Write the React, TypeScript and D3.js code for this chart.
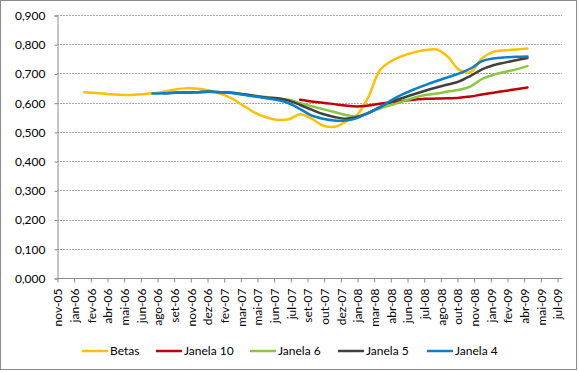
import React, { useEffect, useRef } from "react";
import * as d3 from "d3";

// tick labels on the x axis (Excel date axis)
const tickLabels = [
  "nov-05", "jan-06", "fev-06", "abr-06", "mai-06", "jun-06", "ago-06", "set-06",
  "nov-06", "dez-06", "fev-07", "mar-07", "mai-07", "jun-07", "jul-07", "set-07",
  "out-07", "dez-07", "jan-08", "mar-08", "abr-08", "jun-08", "jul-08", "ago-08",
  "out-08", "nov-08", "jan-09", "fev-09", "abr-09", "mai-09", "jul-09",
];

// monthly data points, jan-06 .. abr-09
const months = [
  "jan-06", "fev-06", "mar-06", "abr-06", "mai-06", "jun-06", "jul-06", "ago-06", "set-06", "out-06", "nov-06", "dez-06",
  "jan-07", "fev-07", "mar-07", "abr-07", "mai-07", "jun-07", "jul-07", "ago-07", "set-07", "out-07", "nov-07", "dez-07",
  "jan-08", "fev-08", "mar-08", "abr-08", "mai-08", "jun-08", "jul-08", "ago-08", "set-08", "out-08", "nov-08", "dez-08",
  "jan-09", "fev-09", "mar-09", "abr-09",
];

const yTicks = [0, 0.1, 0.2, 0.3, 0.4, 0.5, 0.6, 0.7, 0.8, 0.9];

// null = no value for that month
const betas = [
  0.636, 0.633, 0.63, 0.627, 0.626, 0.629, 0.632, 0.638, 0.645, 0.649, 0.648, 0.642,
  0.63, 0.614, 0.59, 0.566, 0.55, 0.541, 0.543, 0.56, 0.545, 0.522, 0.517, 0.535,
  0.558, 0.62, 0.71, 0.742, 0.76, 0.772, 0.78, 0.782, 0.757, 0.712, 0.705, 0.752,
  0.774, 0.779, 0.782, 0.785,
];
const janela10 = [
  null, null, null, null, null, null, null, null, null, null, null, null,
  null, null, null, null, null, null, null, 0.61, 0.604, 0.6, 0.595, 0.59,
  0.587, 0.59, 0.596, 0.601, 0.606, 0.61, 0.613, 0.614, 0.615, 0.617, 0.621, 0.628,
  0.634, 0.64, 0.646, 0.652,
];
const janela6 = [
  null, null, null, null, null, null, null, null, 0.634, 0.635, 0.636, 0.637,
  0.636, 0.634, 0.629, 0.624, 0.619, 0.614, 0.61, 0.598, 0.588, 0.578, 0.568, 0.558,
  0.552, 0.566, 0.58, 0.592, 0.604, 0.617, 0.626, 0.631, 0.638, 0.644, 0.656, 0.681,
  0.695, 0.705, 0.714, 0.725,
];
const janela5 = [
  null, null, null, null, null, null, null, 0.632, 0.634, 0.635, 0.636, 0.637,
  0.636, 0.634, 0.629, 0.623, 0.618, 0.615, 0.607, 0.592, 0.576, 0.561, 0.551, 0.545,
  0.551, 0.564, 0.585, 0.603, 0.616, 0.629, 0.641, 0.652, 0.662, 0.673, 0.692, 0.714,
  0.728, 0.737, 0.745, 0.753,
];
const janela4 = [
  null, null, null, null, null, null, 0.631, 0.632, 0.634, 0.635, 0.636, 0.637,
  0.636, 0.633, 0.627, 0.621, 0.615, 0.609, 0.598, 0.578, 0.556, 0.545, 0.539, 0.539,
  0.547, 0.565, 0.583, 0.608, 0.628, 0.645, 0.66, 0.674, 0.687, 0.7, 0.717, 0.742,
  0.751, 0.755, 0.757, 0.758,
];

const series = [
  { name: "Betas", values: betas, color: "#ffc000" },
  { name: "Janela 10", values: janela10, color: "#c00000" },
  { name: "Janela 6", values: janela6, color: "#8cc63f" },
  { name: "Janela 5", values: janela5, color: "#404040" },
  { name: "Janela 4", values: janela4, color: "#0a80cc" },
];

const App = () => {
  const svgRef = useRef<SVGSVGElement>(null);

  useEffect(() => {
    const w = 579;
    const h = 372;
    const left = 57;
    const right = 557;
    const top = 15;
    const bottom = 278;
    const font = "Lato, 'Open Sans', sans-serif";

    const svg = d3.select(svgRef.current).attr("width", w).attr("height", h);
    svg.selectAll("*").remove();

    svg
      .append("rect")
      .attr("x", 0.5)
      .attr("y", 0.5)
      .attr("width", 576)
      .attr("height", 369)
      .attr("fill", "#fff")
      .attr("stroke", "#8c8c8c");

    const yScale = d3.scaleLinear().domain([0, 0.9]).range([bottom, top]);
    const xTick = d3.scalePoint().domain(tickLabels).range([left, right]);
    // month index: jan-06 = 0; nov-05 tick sits 2.4 months earlier
    const xMonth = d3.scaleLinear().domain([-2.4, 41.6]).range([left, right]);

    // gridlines
    svg
      .append("g")
      .selectAll("line")
      .data(yTicks.slice(1))
      .join("line")
      .attr("x1", left)
      .attr("x2", right + 5)
      .attr("y1", (d) => Math.round(yScale(d)) + 0.5)
      .attr("y2", (d) => Math.round(yScale(d)) + 0.5)
      .attr("stroke", "#ababab")
      .attr("stroke-dasharray", "2,1");

    // y axis
    const yAxis = d3
      .axisLeft(yScale)
      .tickValues(yTicks)
      .tickSize(3)
      .tickPadding(9)
      .tickFormat((d) => d3.format(".3f")(d as number).replace(".", ","));
    const gy = svg.append("g").attr("transform", `translate(${left + 0.5},0.5)`).call(yAxis);
    gy.select(".domain").attr("stroke", "#8c8c8c");
    gy.selectAll(".tick line").attr("stroke", "#8c8c8c");
    gy.selectAll("text").attr("font-family", font).attr("font-size", 12).attr("fill", "#000");

    // x axis
    const xAxis = d3.axisBottom(xTick).tickSize(4).tickSizeOuter(0);
    const gx = svg.append("g").attr("transform", `translate(0.5,${bottom + 0.5})`).call(xAxis);
    gx.select(".domain").attr("stroke", "#8c8c8c").attr("d", `M${left},0H${right + 5}`);
    gx.selectAll(".tick line").attr("stroke", "#8c8c8c");
    gx.selectAll("text")
      .attr("font-family", font)
      .attr("font-size", 12)
      .attr("fill", "#000")
      .attr("text-anchor", "end")
      .attr("transform", "rotate(-90)")
      .attr("x", -10)
      .attr("y", 0)
      .attr("dy", "0.35em");

    // lines
    const line = d3
      .line<number | null>()
      .defined((d) => d !== null)
      .x((d, i) => xMonth(i))
      .y((d) => yScale(d as number))
      .curve(d3.curveCatmullRom.alpha(0.5));

    svg
      .append("g")
      .selectAll("path")
      .data(series)
      .join("path")
      .attr("d", (s) => line(s.values))
      .attr("fill", "none")
      .attr("stroke", (s) => s.color)
      .attr("stroke-width", 2.5)
      .attr("stroke-linejoin", "round")
      .attr("stroke-linecap", "round");

    // legend
    const legendX = [82, 156, 250, 338, 427];
    const legendY = 351;
    const lg = svg
      .append("g")
      .selectAll("g")
      .data(series)
      .join("g")
      .attr("transform", (d, i) => `translate(${legendX[i]},${legendY})`);
    lg.append("line")
      .attr("x1", 0)
      .attr("x2", 26)
      .attr("stroke", (d) => d.color)
      .attr("stroke-width", 2.5);
    lg.append("text")
      .attr("x", 28)
      .attr("dy", "0.35em")
      .attr("font-family", font)
      .attr("font-size", 12)
      .attr("fill", "#000")
      .text((d) => d.name);
  }, []);

  return <svg ref={svgRef} style={{ position: "absolute", left: 0, top: 0 }} />;
};

export default App;
